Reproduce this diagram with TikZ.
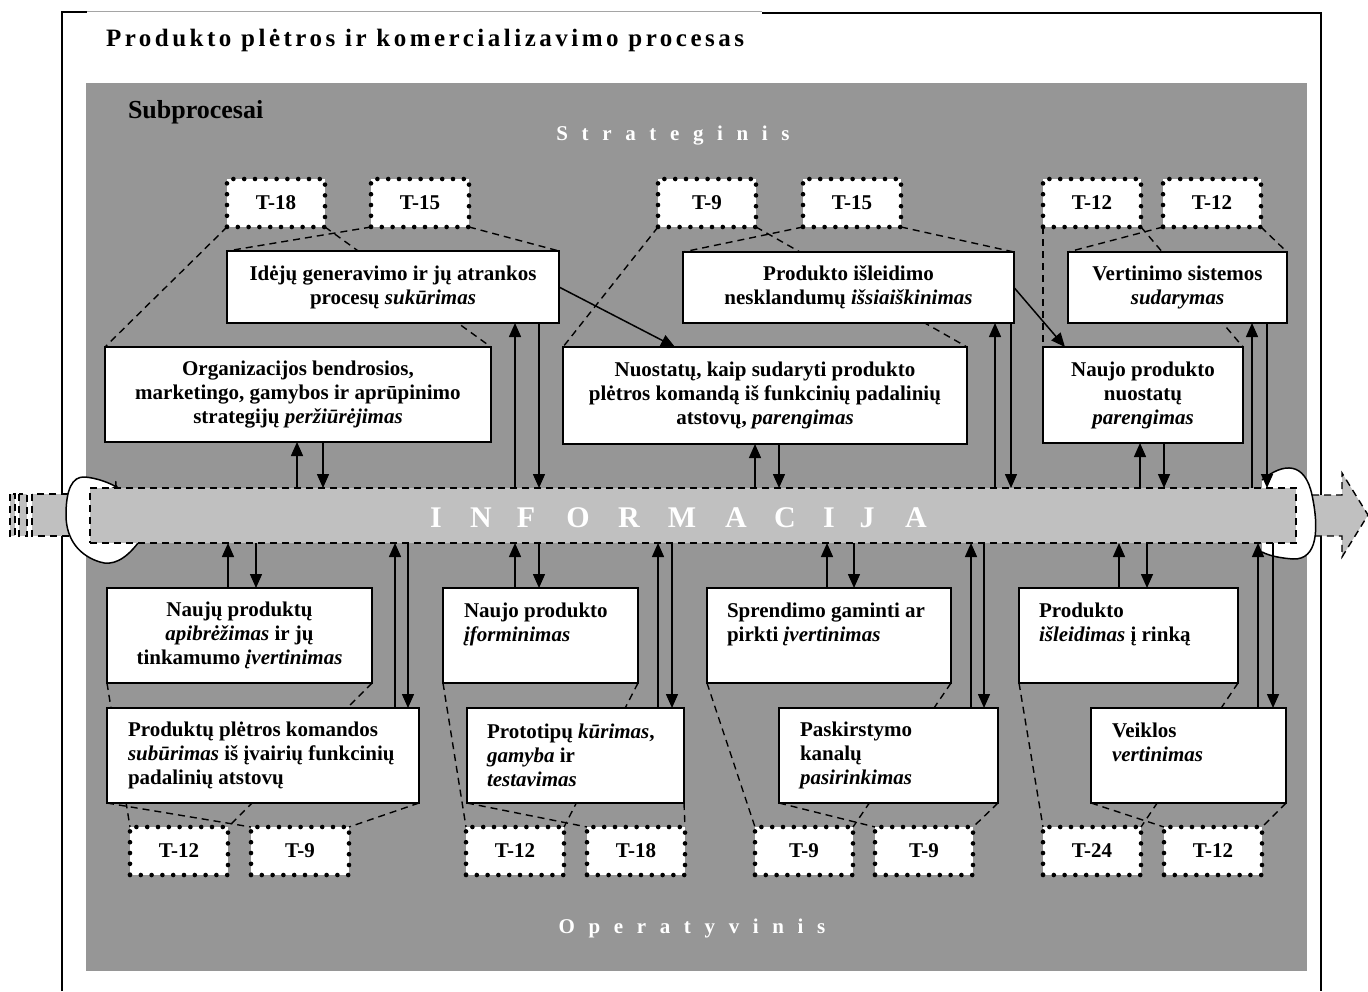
\documentclass[tikz,border=0pt]{standalone}
\usepackage{fontspec}
\setmainfont{Liberation Serif}
\usetikzlibrary{arrows.meta}
\pgfdeclarelayer{back}
\pgfdeclarelayer{links}
\pgfsetlayers{back,links,main}
\definecolor{panelgray}{RGB}{150,150,150}
\definecolor{bandgray}{RGB}{192,192,192}
\definecolor{edgegray}{RGB}{165,165,165}

\begin{document}
\begin{tikzpicture}[x=1pt,y=-1pt,
  every node/.style={inner sep=0pt, outer sep=0pt},
  boxfont/.style={font=\bfseries\fontsize{21}{24}\selectfont},
  proc/.style={boxfont, draw, line width=1.8pt, fill=white, anchor=north west, align=center},
  ptext/.style={boxfont, align=left},
  tbox/.style={boxfont, draw, fill=white, line width=4.6pt, line cap=round,
    dash pattern=on 0pt off 10.8pt, anchor=north west, minimum width=98pt, minimum height=48pt},
  fan/.style={line width=1.4pt, dash pattern=on 7pt off 5pt},
  arr/.style={line width=1.5pt, -{Triangle[width=12pt,length=14pt]}},
  levelfont/.style={text=white, font=\bfseries\fontsize{21}{24}\selectfont\addfontfeature{LetterSpace=65}},
  infofont/.style={text=white, font=\bfseries\fontsize{30}{32}\selectfont, anchor=base}
]
\useasboundingbox (0,0) rectangle (1368,991);

% outer frame and grey working area
\begin{pgfonlayer}{back}
  \draw[line width=2pt] (62,991) -- (62,12) -- (87,12);
  \draw[edgegray, line width=1pt] (87,11.5) -- (762,11.5);
  \draw[line width=2pt] (762,13) -- (1321,13) -- (1321,991);
  \fill[panelgray] (86,83) rectangle (1307,971);
\end{pgfonlayer}

% title texts
\node[anchor=base west, font=\bfseries\fontsize{25}{28}\selectfont\addfontfeature{LetterSpace=14}] (title) at (106,46)
  {Produkto plėtros ir komercializavimo procesas};
\node[anchor=base west, font=\bfseries\fontsize{26}{28}\selectfont] (subp) at (128,118) {Subprocesai};
\node[levelfont, anchor=base] (strat) at (673,140) {Strateginis};
\node[levelfont, anchor=base] (oper) at (692,933) {Operatyvinis};

% information flow: tail stripes, arrow head, loops and the band
\filldraw[fill=bandgray, fan] (10,494) rectangle (15,536);
\filldraw[fill=bandgray, fan] (19,494) rectangle (27,536);
\filldraw[fill=bandgray, fan] (32,494) rectangle (80,536);
\filldraw[fill=bandgray, fan] (1300,495) -- (1342,495) -- (1342,473) -- (1368,515)
  -- (1342,557) -- (1342,536) -- (1300,536) -- cycle;
\draw[fill=white, line width=1.5pt, -{To[length=6pt,width=10pt]}] (138,543)
  .. controls (125,560) and (112,566) .. (100,562)
  .. controls (80,556) and (66,540) .. (66,515)
  .. controls (66,490) and (72,476) .. (85,477)
  .. controls (97,478) and (110,483) .. (118,488);
\draw[fill=white, line width=1.5pt] (1262,480)
  .. controls (1284,462) and (1305,462) .. (1312,495)
  .. controls (1319,528) and (1318,560) .. (1293,559)
  .. controls (1280,558) and (1270,556) .. (1262,552);
\node[draw, fill=bandgray, fan, anchor=north west, minimum width=1206pt, minimum height=55pt] (band) at (90,488) {};
\foreach \ch/\xx [count=\i] in {I/436,N/481,F/526,O/578,R/629,M/682,A/736,C/785,I/829,J/867,A/916}
  \node[infofont] (inf\i) at (\xx,527) {\ch};

% strategic level processes
\node[tbox] (t18a) at (227,179) {T-18};
\node[tbox] (t15a) at (371,179) {T-15};
\node[tbox] (t9a)  at (658,179) {T-9};
\node[tbox] (t15b) at (803,179) {T-15};
\node[tbox] (t12a) at (1043,179) {T-12};
\node[tbox] (t12b) at (1163,179) {T-12};

\node[proc, minimum width=386pt, minimum height=95pt] (org) at (105,347)
  {Organizacijos bendrosios,\\marketingo, gamybos ir aprūpinimo\\strategijų \textit{peržiūrėjimas}};
\node[proc, minimum width=332pt, minimum height=72pt] (idej) at (227,251)
  {Idėjų generavimo ir jų atrankos\\procesų \textit{sukūrimas}};
\node[proc, minimum width=404pt, minimum height=97pt] (nuos) at (563,347)
  {Nuostatų, kaip sudaryti produkto\\plėtros komandą iš funkcinių padalinių\\atstovų, \textit{parengimas}};
\node[proc, minimum width=331pt, minimum height=71pt] (prodis) at (683,252)
  {Produkto išleidimo\\nesklandumų \textit{išsiaiškinimas}};
\node[proc, minimum width=200pt, minimum height=96pt] (nn) at (1043,347)
  {Naujo produkto\\nuostatų\\\textit{parengimas}};
\node[proc, minimum width=219pt, minimum height=71pt] (vert) at (1068,252)
  {Vertinimo sistemos\\\textit{sudarymas}};

% operative level processes
\node[proc, minimum width=265pt, minimum height=95pt] (nauj) at (107,588)
  {Naujų produktų\\\textit{apibrėžimas} ir jų\\tinkamumo \textit{įvertinimas}};
\node[proc, minimum width=312pt, minimum height=95pt] (kom) at (107,708) {};
\node[proc, minimum width=195pt, minimum height=95pt] (forma) at (443,588) {};
\node[proc, minimum width=217pt, minimum height=95pt] (proto) at (467,708) {};
\node[proc, minimum width=244pt, minimum height=95pt] (spr) at (707,588) {};
\node[proc, minimum width=219pt, minimum height=95pt] (pask) at (779,708) {};
\node[proc, minimum width=219pt, minimum height=95pt] (isl) at (1019,588) {};
\node[proc, minimum width=195pt, minimum height=95pt] (veik) at (1091,708) {};

\node[ptext, anchor=west] (komt) at ([xshift=21pt]kom.west)
  {Produktų plėtros komandos\\\textit{subūrimas} iš įvairių funkcinių\\padalinių atstovų};
\node[ptext, anchor=north west] (format) at ([shift={(21,15)}]forma.north west)
  {Naujo produkto\\\textit{įforminimas}};
\node[ptext, anchor=west] (protot) at ([xshift=20pt]proto.west)
  {Prototipų \textit{kūrimas},\\\textit{gamyba} ir\\\textit{testavimas}};
\node[ptext, anchor=north west] (sprt) at ([shift={(20,15)}]spr.north west)
  {Sprendimo gaminti ar\\pirkti \textit{įvertinimas}};
\node[ptext, anchor=west] (paskt) at ([xshift=21pt]pask.west)
  {Paskirstymo\\kanalų\\\textit{pasirinkimas}};
\node[ptext, anchor=north west] (islt) at ([shift={(20,15)}]isl.north west)
  {Produkto\\\textit{išleidimas} į rinką};
\node[ptext, anchor=north west] (veikt) at ([shift={(21,15)}]veik.north west)
  {Veiklos\\\textit{vertinimas}};

\node[tbox] (t12c) at (130,827) {T-12};
\node[tbox] (t9c)  at (251,827) {T-9};
\node[tbox] (t12d) at (466,827) {T-12};
\node[tbox] (t18b) at (587,827) {T-18};
\node[tbox] (t9d)  at (755,827) {T-9};
\node[tbox] (t9e)  at (875,827) {T-9};
\node[tbox] (t24)  at (1043,827) {T-24};
\node[tbox] (t12e) at (1164,827) {T-12};

% dashed links between time labels and processes
\begin{pgfonlayer}{links}
  \foreach \t/\p in {t18a/org, t15a/idej, t9a/nuos, t15b/prodis, t12a/nn, t12b/vert}{
    \draw[fan] (\t.south west) -- (\p.north west);
    \draw[fan] (\t.south east) -- (\p.north east);
  }
  \foreach \p/\t in {nauj/t12c, kom/t9c, forma/t12d, proto/t18b, spr/t9d, pask/t9e, isl/t24, veik/t12e}{
    \draw[fan] (\p.south west) -- (\t.north west);
    \draw[fan] (\p.south east) -- (\t.north east);
  }
\end{pgfonlayer}

% exchange with the information band
\foreach \p/\u/\d in {org/297/323, idej/515/539, nuos/755/779, prodis/995/1011, nn/1140/1164, vert/1252/1267}{
  \draw[arr] (\u,0 |- band.north) -- (\u,0 |- \p.south);
  \draw[arr] (\d,0 |- \p.south) -- (\d,0 |- band.north);
}
\foreach \p/\u/\d in {nauj/228/256, kom/395/408, forma/515/539, proto/658/672, spr/827/854, pask/971/984, isl/1119/1147, veik/1258/1273}{
  \draw[arr] (\u,0 |- \p.north) -- (\u,0 |- band.south);
  \draw[arr] (\d,0 |- band.south) -- (\d,0 |- \p.north);
}

% direct transitions between strategic processes
\draw[arr] (idej.east) -- (675,0 |- nuos.north);
\draw[arr] (prodis.east) -- (1065,0 |- nn.north);
\end{tikzpicture}
\end{document}
